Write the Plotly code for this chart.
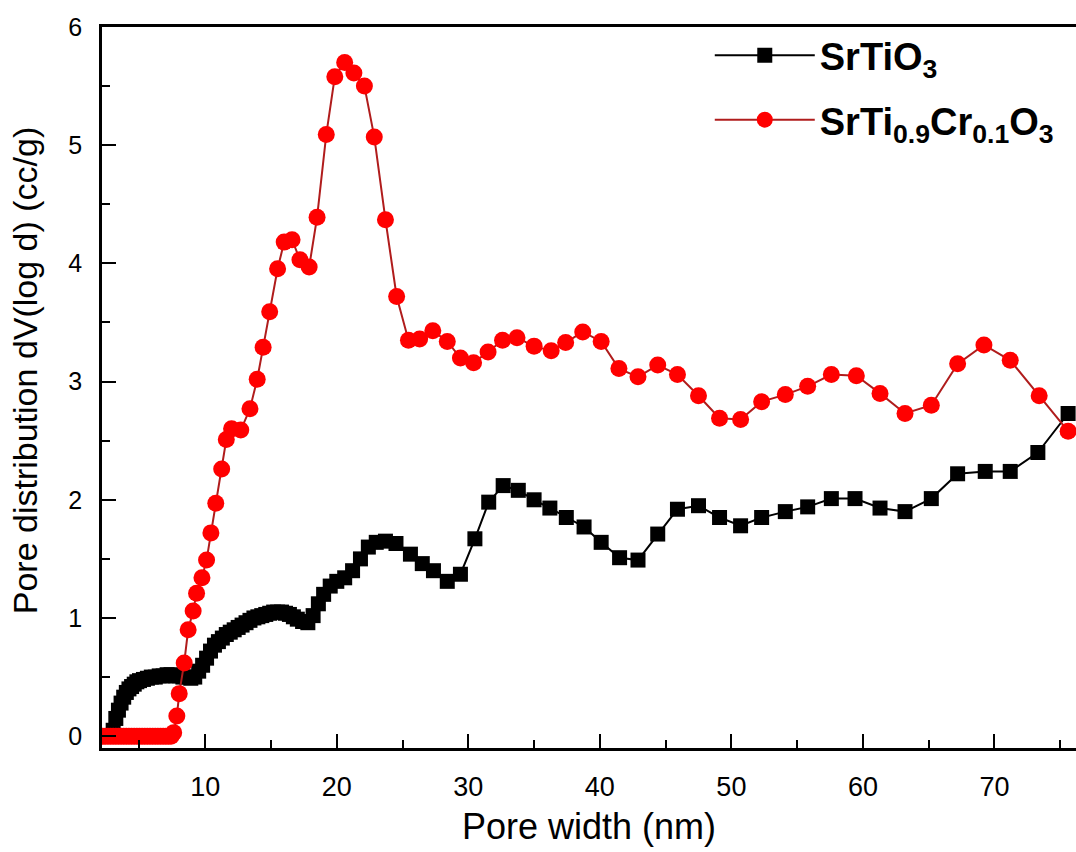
import plotly.graph_objects as go

# SrTiO3 (black squares)
x_sto = [2.2, 2.4, 2.6, 2.8, 3.0, 3.2, 3.4, 3.6, 3.8, 4.0, 4.2, 4.4, 4.6, 4.8, 5.0, 5.3, 5.6, 5.9,
         6.2, 6.5, 6.8, 7.1, 7.4, 7.7, 8.0, 8.3, 8.6, 8.9, 9.2, 9.5, 9.8, 10.1, 10.4, 10.7, 11.0,
         11.3, 11.6, 11.9, 12.2, 12.5, 12.8, 13.1, 13.4, 13.7, 14.0, 14.3, 14.6, 14.9, 15.2, 15.5,
         15.8, 16.1, 16.4, 16.7, 17.0, 17.4, 17.8, 18.2, 18.6, 19.0, 19.5, 20.0, 20.6, 21.2, 21.8,
         22.4, 23.0, 23.7, 24.5, 25.6, 26.5, 27.35, 28.4, 29.4, 30.5, 31.55, 32.65, 33.8, 35.0,
         36.2, 37.45, 38.8, 40.1, 41.5, 42.9, 44.4, 45.9, 47.5, 49.1, 50.7, 52.3, 54.1, 55.8,
         57.6, 59.4, 61.3, 63.2, 65.2, 67.2, 69.3, 71.2, 73.3, 75.6]
y_sto = [0.0, 0.0, 0.0, 0.0, 0.05, 0.15, 0.22, 0.28, 0.33, 0.37, 0.40, 0.42, 0.44, 0.46, 0.47, 0.48,
         0.49, 0.50, 0.50, 0.51, 0.51, 0.52, 0.52, 0.51, 0.51, 0.50, 0.50, 0.49, 0.50, 0.55, 0.60,
         0.66, 0.72, 0.77, 0.80, 0.83, 0.86, 0.88, 0.90, 0.92, 0.94, 0.96, 0.98, 1.00, 1.01, 1.02,
         1.03, 1.04, 1.05, 1.05, 1.05, 1.04, 1.03, 1.01, 0.99, 0.97, 0.96, 1.02, 1.12, 1.20, 1.27,
         1.31, 1.34, 1.40, 1.50, 1.60, 1.64, 1.65, 1.63, 1.54, 1.46, 1.40, 1.31, 1.37, 1.67, 1.98,
         2.12, 2.08, 2.00, 1.93, 1.85, 1.77, 1.64, 1.51, 1.49, 1.71, 1.92, 1.95, 1.85, 1.78, 1.85,
         1.90, 1.94, 2.01, 2.01, 1.93, 1.90, 2.01, 2.22, 2.24, 2.24, 2.40, 2.73]

# SrTi0.9Cr0.1O3 (red circles)
x_cr = [2.2, 2.4, 2.6, 2.8, 3.0, 3.2, 3.4, 3.6, 3.8, 4.0, 4.2, 4.4, 4.6, 4.8, 5.0, 5.2, 5.4, 5.6,
        5.8, 6.0, 6.2, 6.4, 6.6, 6.8, 7.0, 7.2, 7.4, 7.6, 7.84, 8.02, 8.4, 8.7, 9.08, 9.34, 9.75,
        10.1, 10.43, 10.8, 11.25, 11.6, 12.0, 12.7, 13.4, 13.95, 14.4, 14.9, 15.5, 16.0, 16.6,
        17.2, 17.9, 18.5, 19.2, 19.85, 20.6, 21.3, 22.1, 22.85, 23.7, 24.55, 25.45, 26.3, 27.3,
        28.4, 29.4, 30.4, 31.5, 32.6, 33.7, 35.0, 36.3, 37.4, 38.7, 40.1, 41.45, 42.9, 44.4,
        45.9, 47.5, 49.1, 50.7, 52.3, 54.1, 55.8, 57.6, 59.5, 61.3, 63.2, 65.2, 67.2, 69.2,
        71.2, 73.4, 75.6]
y_cr = [0.0, 0.0, 0.0, 0.0, 0.0, 0.0, 0.0, 0.0, 0.0, 0.0, 0.0, 0.0, 0.0, 0.0, 0.0,
        0.0, 0.0, 0.0, 0.0, 0.0, 0.0, 0.0, 0.0, 0.0, 0.0, 0.0, 0.0, 0.03, 0.17, 0.36, 0.62, 0.90,
        1.06, 1.21, 1.34, 1.49, 1.72, 1.97, 2.26, 2.51, 2.60, 2.59, 2.77, 3.02, 3.29, 3.59, 3.955,
        4.18, 4.20, 4.03, 3.97, 4.39, 5.09, 5.58, 5.70, 5.61, 5.50, 5.07, 4.37, 3.72, 3.35, 3.36,
        3.43, 3.34, 3.20, 3.16, 3.25, 3.35, 3.37, 3.30, 3.26, 3.33, 3.42, 3.34, 3.11, 3.04, 3.14,
        3.06, 2.88, 2.69, 2.68, 2.83, 2.89, 2.96, 3.06, 3.05, 2.90, 2.73, 2.80, 3.15, 3.31, 3.18,
        2.88, 2.58]

x_ticks = [10, 20, 30, 40, 50, 60, 70]
y_ticks = [0, 1, 2, 3, 4, 5, 6]
x_range = [2.15, 76.2]

FONT = "Liberation Sans, Arial, sans-serif"

fig = go.Figure()
fig.add_trace(go.Scatter(
    x=x_sto, y=y_sto, mode="lines+markers", name="SrTiO<sub>3</sub>",
    legendgroup="a",
    line=dict(color="black", width=2),
    marker=dict(symbol="square", size=15, color="black", line=dict(width=0)),
))
fig.add_trace(go.Scatter(
    x=x_cr, y=y_cr, mode="lines+markers", name="SrTi<sub>0.9</sub>Cr<sub>0.1</sub>O<sub>3</sub>",
    legendgroup="b",
    line=dict(color="#b01c1c", width=2),
    marker=dict(symbol="circle", size=17, color="#ff0000", line=dict(width=0)),
))
# empty trace that only registers the label-carrying x axis
fig.add_trace(go.Scatter(x=[], y=[], xaxis="x2", yaxis="y", showlegend=False,
                         hoverinfo="skip", mode="markers"))

fig.update_layout(
    width=1076, height=852,
    margin=dict(l=102, r=0, t=27, b=104),
    paper_bgcolor="white", plot_bgcolor="white",
    font=dict(family=FONT, color="black"),
    showlegend=True,
    legend=dict(
        x=0.624, y=1.004, xanchor="left", yanchor="top",
        bgcolor="rgba(0,0,0,0)", borderwidth=0,
        font=dict(family=FONT, size=38, color="black", weight="bold"),
        itemwidth=100, tracegroupgap=12,
    ),
    xaxis=dict(
        range=x_range, showgrid=False, zeroline=False,
        showline=True, linewidth=2.5, linecolor="black", mirror=True,
        tickmode="array", tickvals=x_ticks, ticks="inside", ticklen=14, tickwidth=2,
        tickcolor="black", showticklabels=False,
        minor=dict(ticks="inside", ticklen=8, tickwidth=2, dtick=5, tick0=0, tickcolor="black"),
    ),
    # label-only axis laid over the bottom axis, to place tick labels lower
    xaxis2=dict(
        overlaying="x", anchor="y", side="bottom", range=x_range,
        showgrid=False, zeroline=False, showline=False,
        tickmode="array", tickvals=x_ticks, ticks="outside", ticklen=15,
        tickcolor="rgba(0,0,0,0)",
        tickfont=dict(family=FONT, size=27, color="black"),
        title=dict(text="Pore width (nm)", font=dict(family=FONT, size=36, color="black"), standoff=12),
    ),
    yaxis=dict(
        range=[-0.1, 6.0], showgrid=False, zeroline=False,
        showline=True, linewidth=2.5, linecolor="black", mirror=False,
        tickmode="array", tickvals=y_ticks, ticks="inside", ticklen=14, tickwidth=2,
        tickcolor="black",
        minor=dict(ticks="inside", ticklen=8, tickwidth=2, dtick=0.5, tick0=0, tickcolor="black"),
        tickfont=dict(family=FONT, size=25, color="black"),
        ticklabelstandoff=12,
    ),
    annotations=[dict(
        text="Pore distribution dV(log d) (cc/g)", textangle=-90,
        xref="paper", yref="paper", x=-0.079, y=0.524,
        xanchor="center", yanchor="middle", showarrow=False,
        font=dict(family=FONT, size=34, color="black"),
    )],
)

fig.write_html("out.html")
